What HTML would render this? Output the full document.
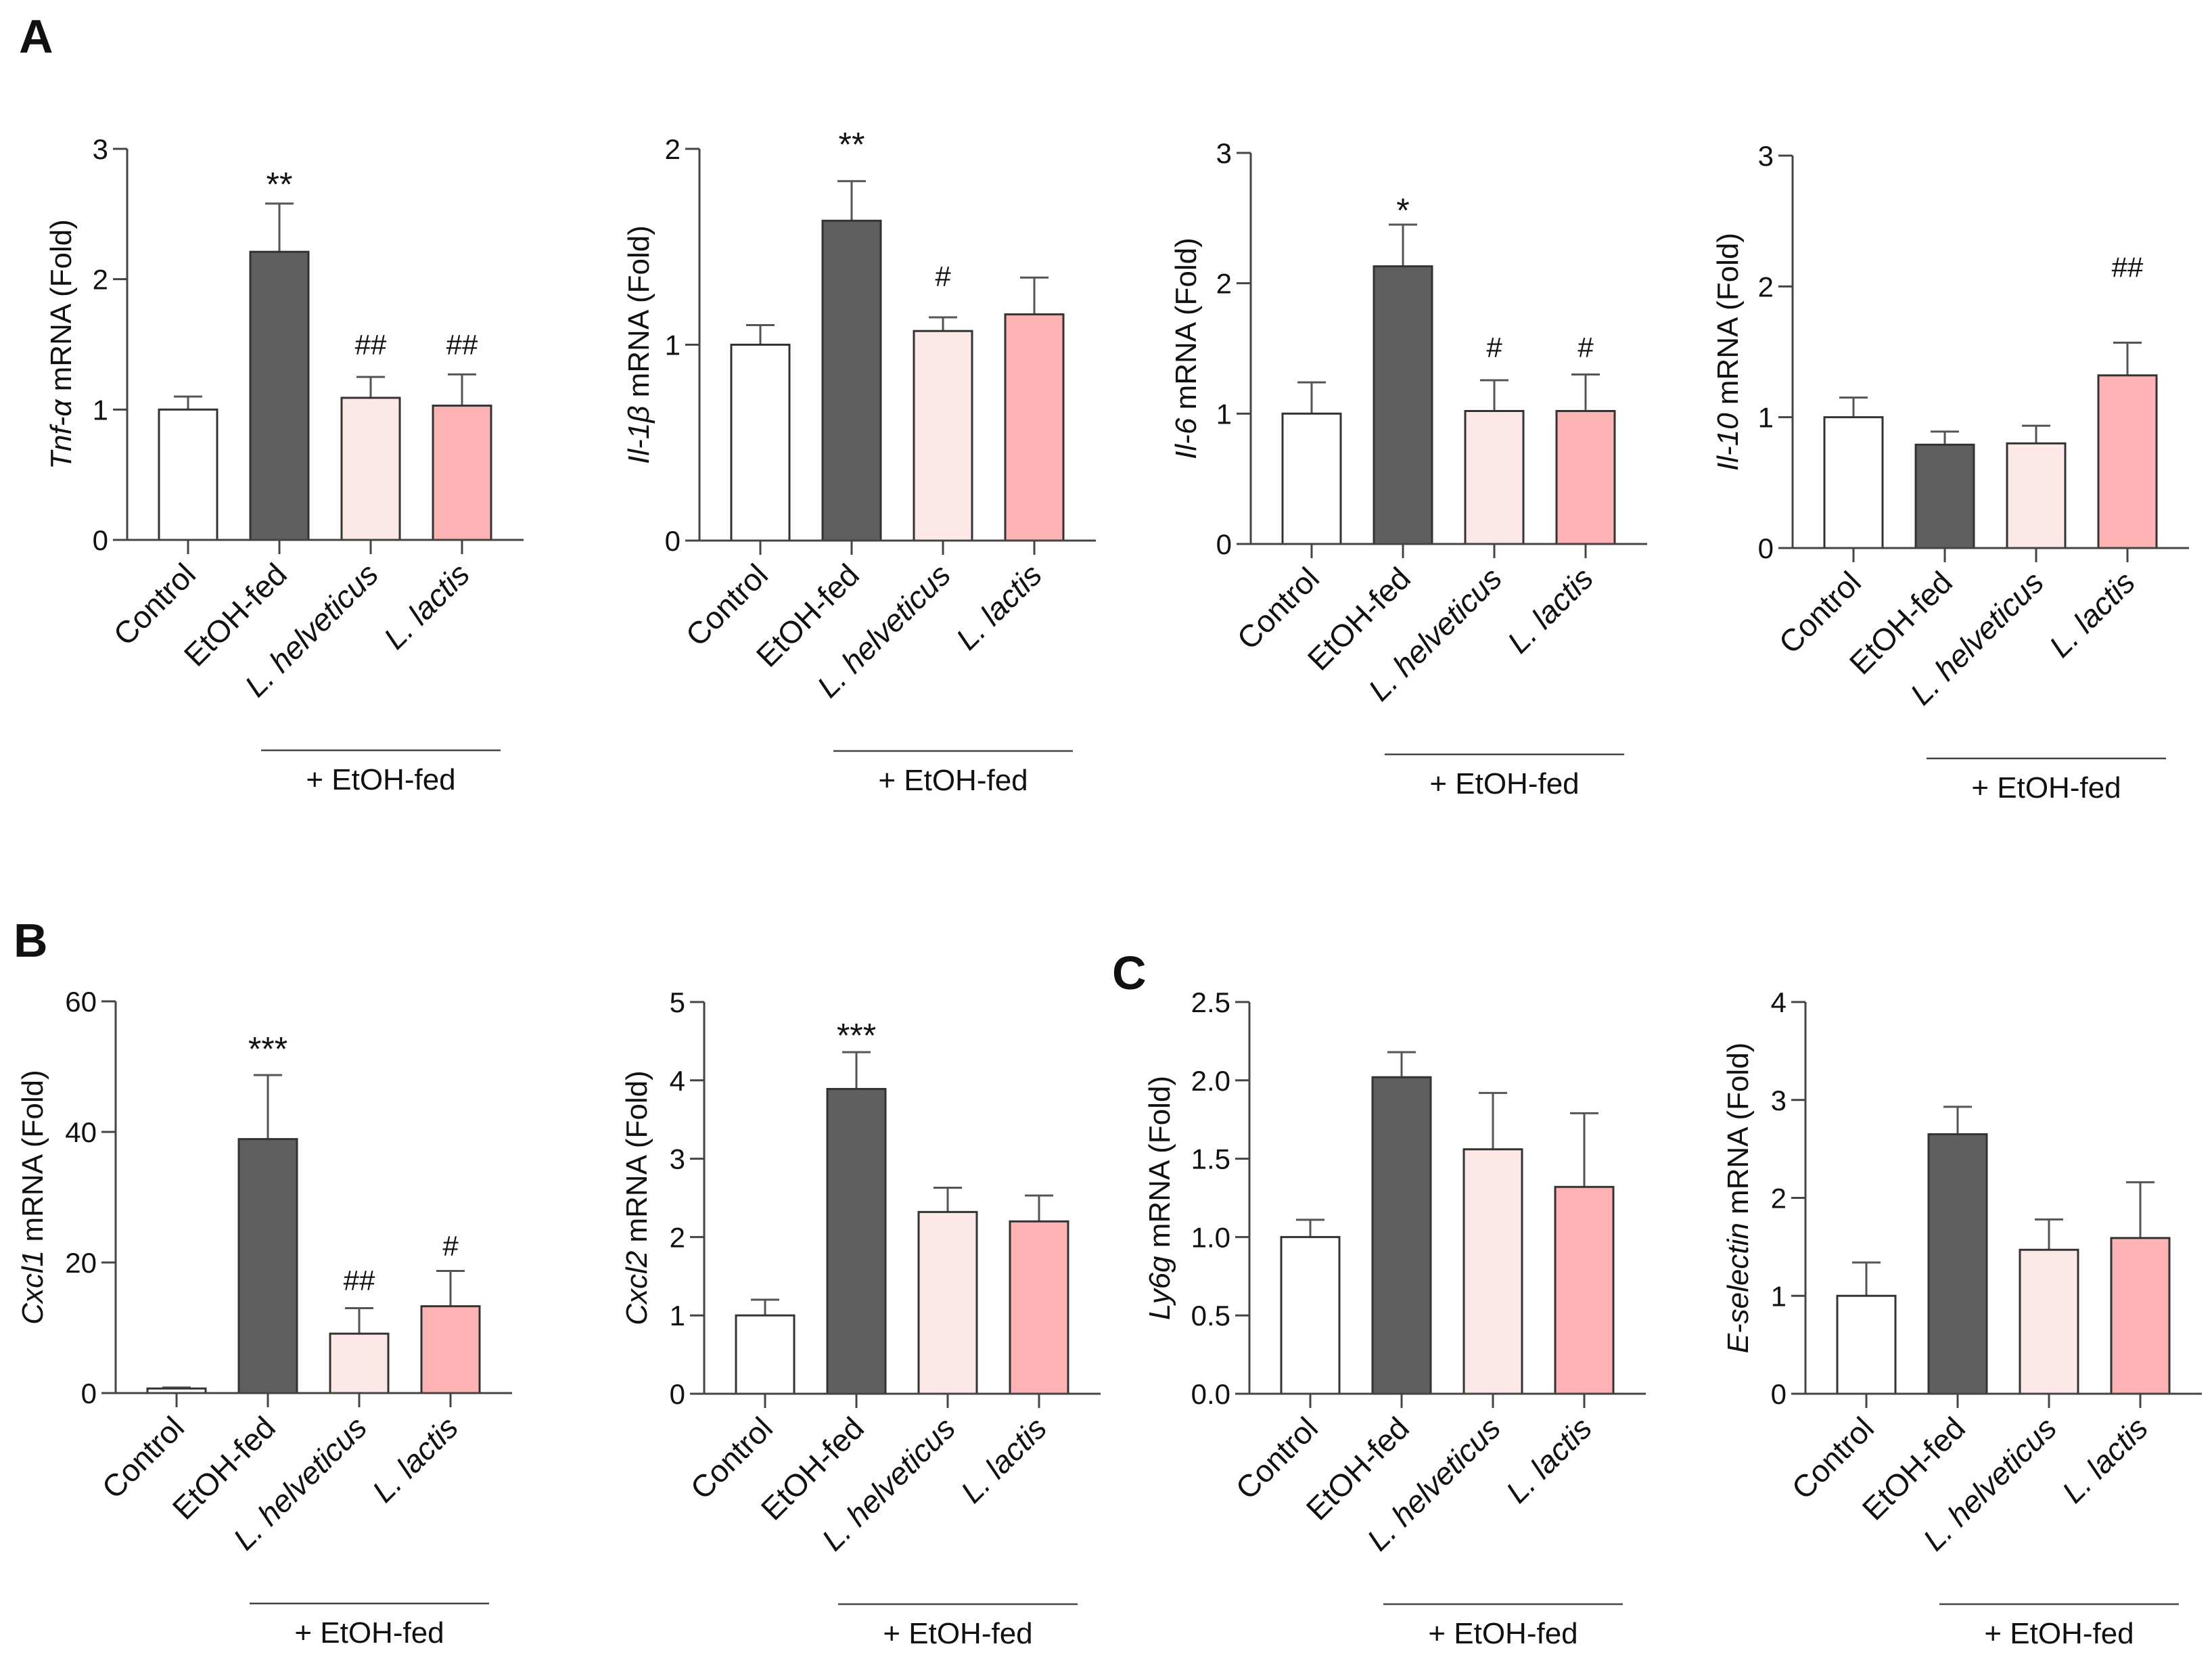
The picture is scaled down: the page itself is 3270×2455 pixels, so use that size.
<!DOCTYPE html>
<html><head><meta charset="utf-8"><style>
html,body{margin:0;padding:0;background:#fff}
svg{display:block}
text{font-family:"Liberation Sans",Arial,sans-serif;fill:#111}
</style></head><body>
<svg id="fig" width="3270" height="2455" viewBox="0 0 3270 2455" xmlns="http://www.w3.org/2000/svg">
<text x="28" y="78" font-size="70" font-weight="bold">A</text>
<text x="20" y="1414" font-size="70" font-weight="bold">B</text>
<text x="1644" y="1462" font-size="70" font-weight="bold">C</text>
</svg>
<script>
const categories = ["Control", "EtOH-fed", "L. helveticus", "L. lactis"];
const colors = ["#ffffff", "#5f5f5f", "#fde8e8", "#fdb3b3"];

const tnfValues = [1.0, 2.21, 1.09, 1.03];
const tnfErr = [1.10, 2.58, 1.25, 1.27];
const tnfAnnot = ["", "**", "##", "##"];
const tnfAnnotY = [0, 2.77, 1.50, 1.50];
const tnfTicks = [0, 1, 2, 3];

const il1bValues = [1.0, 1.633, 1.07, 1.155];
const il1bErr = [1.10, 1.835, 1.14, 1.343];
const il1bAnnot = ["", "**", "#", ""];
const il1bAnnotY = [0, 2.05, 1.35, 0];
const il1bTicks = [0, 1, 2];

const il6Values = [1.0, 2.13, 1.02, 1.02];
const il6Err = [1.24, 2.45, 1.256, 1.30];
const il6Annot = ["", "*", "#", "#"];
const il6AnnotY = [0, 2.60, 1.51, 1.51];
const il6Ticks = [0, 1, 2, 3];

const il10Values = [1.0, 0.79, 0.80, 1.32];
const il10Err = [1.15, 0.89, 0.935, 1.57];
const il10Annot = ["", "", "", "##"];
const il10AnnotY = [0, 0, 0, 2.15];
const il10Ticks = [0, 1, 2, 3];

const cxcl1Values = [0.7, 38.9, 9.1, 13.3];
const cxcl1Err = [0.85, 48.7, 13.0, 18.7];
const cxcl1Annot = ["", "***", "##", "#"];
const cxcl1AnnotY = [0, 53.5, 17.3, 22.6];
const cxcl1Ticks = [0, 20, 40, 60];

const cxcl2Values = [1.0, 3.89, 2.32, 2.20];
const cxcl2Err = [1.20, 4.36, 2.63, 2.53];
const cxcl2Annot = ["", "***", "", ""];
const cxcl2AnnotY = [0, 4.64, 0, 0];
const cxcl2Ticks = [0, 1, 2, 3, 4, 5];

const ly6gValues = [1.0, 2.02, 1.56, 1.32];
const ly6gErr = [1.11, 2.18, 1.92, 1.79];
const ly6gAnnot = ["", "", "", ""];
const ly6gAnnotY = [0, 0, 0, 0];
const ly6gTicks = [0, 0.5, 1.0, 1.5, 2.0, 2.5];
const ly6gTickLabels = ["0.0", "0.5", "1.0", "1.5", "2.0", "2.5"];

const eselValues = [1.0, 2.65, 1.47, 1.59];
const eselErr = [1.34, 2.93, 1.78, 2.16];
const eselAnnot = ["", "", "", ""];
const eselAnnotY = [0, 0, 0, 0];
const eselTicks = [0, 1, 2, 3, 4];

const NS = "http://www.w3.org/2000/svg";
const svg = document.getElementById("fig");
function mk(tag, attrs, parent) {
  const e = document.createElementNS(NS, tag);
  for (const k in attrs) e.setAttribute(k, attrs[k]);
  (parent || svg).appendChild(e);
  return e;
}

function drawPanel(p) {
  const g = mk("g", {});
  
  
  const ymax = p.ticks[p.ticks.length - 1];
  const yScale = v => p.zero - (v / ymax) * (p.zero - p.top);
  const xCenter = i => p.ax + 47 + 43 + i * 135;
  const axEnd = p.ax + 586;
  p.values.forEach((v, i) => {
    const cx = xCenter(i);
    const ey = yScale(p.err[i]);
    const by = yScale(v);
    const eb = mk("line", {x1: cx, x2: cx, y1: by, y2: ey, stroke: "#555", "stroke-width": 3}, g);
    
    
    const cap = mk("line", {x1: cx - 21, x2: cx + 21, y1: ey, y2: ey, stroke: "#555", "stroke-width": 3}, g);
    
    
    const r = mk("rect", {x: cx - 43, y: by, width: 86, height: p.zero - by, fill: colors[i], stroke: "#333", "stroke-width": 3}, g);
    
    
    if (p.annot[i]) {
      const isStar = p.annot[i].indexOf("*") >= 0;
      const t = mk("text", {x: cx, y: yScale(p.annotY[i]) + (isStar ? 25 : 15), "text-anchor": "middle", "font-size": isStar ? 50 : 42}, g);
      t.textContent = p.annot[i];
      
      
    }
    const ct = mk("line", {x1: cx, x2: cx, y1: p.zero, y2: p.zero + 21, stroke: "#444", "stroke-width": 3}, g);
    
    
    const lx = cx + 14, ly = p.zero + 54;
    const lab = mk("text", {x: lx, y: ly, "text-anchor": "end", "font-size": 46, transform: "rotate(-45 " + lx + " " + ly + ")", "font-style": i >= 2 ? "italic" : "normal"}, g);
    lab.textContent = categories[i];
    
    
  });
  const yA = mk("line", {x1: p.ax, x2: p.ax, y1: p.top, y2: p.zero, stroke: "#444", "stroke-width": 3}, g);
  
  
  const xA = mk("line", {x1: p.ax - 21, x2: axEnd, y1: p.zero, y2: p.zero, stroke: "#444", "stroke-width": 3}, g);
  
  
  p.ticks.forEach((tv, j) => {
    const y = yScale(tv);
    const tk = mk("line", {x1: p.ax - 21, x2: p.ax, y1: y, y2: y, stroke: "#444", "stroke-width": 3}, g);
    
    
    const tl = mk("text", {x: p.ax - 28, y: y + 15, "text-anchor": "end", "font-size": 42}, g);
    tl.textContent = p.tickLabels ? p.tickLabels[j] : String(tv);
    
    
  });
  const ty = (p.top + p.zero) / 2, tx = p.ax - p.titleOff;
  const tt = mk("text", {x: tx, y: ty, "text-anchor": "middle", "font-size": 44, "dominant-baseline": "middle", transform: "rotate(-90 " + tx + " " + ty + ")"}, g);
  const s1 = mk("tspan", {"font-style": "italic"}, tt);
  s1.textContent = p.gene;
  const s2 = mk("tspan", {}, tt);
  s2.textContent = " mRNA (Fold)";
  
  
  const bl = mk("line", {x1: p.ax + 198, x2: p.ax + 552, y1: p.zero + 311, y2: p.zero + 311, stroke: "#444", "stroke-width": 2.5}, g);
  
  
  const bt = mk("text", {x: p.ax + 375, y: p.zero + 369, "text-anchor": "middle", "font-size": 44}, g);
  bt.textContent = "+ EtOH-fed";
  
  
}

drawPanel({name: "tnf", gene: "Tnf-α", ax: 188, top: 220, zero: 798, ticks: tnfTicks, values: tnfValues, err: tnfErr, annot: tnfAnnot, annotY: tnfAnnotY, titleOff: 95});
drawPanel({name: "il1b", gene: "Il-1β", ax: 1034, top: 220, zero: 799, ticks: il1bTicks, values: il1bValues, err: il1bErr, annot: il1bAnnot, annotY: il1bAnnotY, titleOff: 87});
drawPanel({name: "il6", gene: "Il-6", ax: 1849, top: 226, zero: 804, ticks: il6Ticks, values: il6Values, err: il6Err, annot: il6Annot, annotY: il6AnnotY, titleOff: 93});
drawPanel({name: "il10", gene: "Il-10", ax: 2650, top: 230, zero: 810, ticks: il10Ticks, values: il10Values, err: il10Err, annot: il10Annot, annotY: il10AnnotY, titleOff: 93});
drawPanel({name: "cxcl1", gene: "Cxcl1", ax: 171, top: 1480, zero: 2059, ticks: cxcl1Ticks, values: cxcl1Values, err: cxcl1Err, annot: cxcl1Annot, annotY: cxcl1AnnotY, titleOff: 120});
drawPanel({name: "cxcl2", gene: "Cxcl2", ax: 1041, top: 1481, zero: 2060, ticks: cxcl2Ticks, values: cxcl2Values, err: cxcl2Err, annot: cxcl2Annot, annotY: cxcl2AnnotY, titleOff: 97});
drawPanel({name: "ly6g", gene: "Ly6g", ax: 1847, top: 1481, zero: 2060, ticks: ly6gTicks, tickLabels: ly6gTickLabels, values: ly6gValues, err: ly6gErr, annot: ly6gAnnot, annotY: ly6gAnnotY, titleOff: 130});
drawPanel({name: "eselectin", gene: "E-selectin", ax: 2669, top: 1481, zero: 2060, ticks: eselTicks, values: eselValues, err: eselErr, annot: eselAnnot, annotY: eselAnnotY, titleOff: 97});
</script>
</body></html>
